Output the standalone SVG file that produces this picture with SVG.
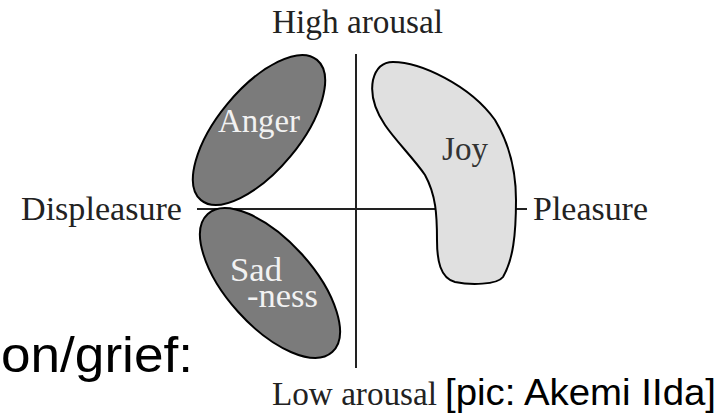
<svg xmlns="http://www.w3.org/2000/svg" width="722" height="413" viewBox="0 0 722 413">
<style>
.lbl{font-family:"Liberation Serif","Times New Roman",serif;font-size:34px;fill:#222}
.in{font-family:"Liberation Serif","Times New Roman",serif;font-size:34px}
.sans{font-family:"Liberation Sans",Arial,sans-serif;fill:#000}
.dark{fill:#7b7b7b;stroke:#000;stroke-width:2}
.light{fill:#e0e0e0;stroke:#000;stroke-width:2}
.axis{stroke:#222;stroke-width:2;fill:none}
</style>
<rect width="722" height="413" fill="#fff"/>
<g id="connectors">
<line class="axis" x1="356" y1="54" x2="356" y2="368"/>
<line class="axis" x1="197" y1="209" x2="527" y2="209"/>
</g>
<g id="anger">
<ellipse class="dark" cx="259" cy="130" rx="91" ry="41" transform="rotate(-50.4 259 130)"/>
<text class="in" x="218" y="132" fill="#f2f2f2" textLength="82" lengthAdjust="spacingAndGlyphs">Anger</text>
</g>
<g id="sadness">
<ellipse class="dark" cx="270" cy="283" rx="93" ry="43" transform="rotate(48 270 283)"/>
<text class="in" x="230" y="281" fill="#f2f2f2" textLength="52" lengthAdjust="spacingAndGlyphs">Sad</text>
<text class="in" x="247" y="307" fill="#f2f2f2" textLength="71" lengthAdjust="spacingAndGlyphs">-ness</text>
</g>
<g id="joy">
<path class="light" d="M393 62 C420 62 470 85 495 120 C510 145 516 170 516 200 C516 235 513 260 503 277 C497 285 470 285 455 282 C440 278 437 260 437 240 C437 215 436 195 425 175 C415 160 395 140 385 125 C375 110 370 95 373 80 C376 68 383 62 393 62 Z"/>
<text class="in" x="442" y="160" fill="#333" textLength="46" lengthAdjust="spacingAndGlyphs">Joy</text>
</g>
<g id="labels">
<text class="lbl" x="272" y="33" textLength="171" lengthAdjust="spacingAndGlyphs">High arousal</text>
<text class="lbl" x="272" y="405" textLength="165" lengthAdjust="spacingAndGlyphs">Low arousal</text>
<text class="lbl" x="21" y="220" textLength="161" lengthAdjust="spacingAndGlyphs">Displeasure</text>
<text class="lbl" x="533" y="220" textLength="115" lengthAdjust="spacingAndGlyphs">Pleasure</text>
<text class="sans" x="445" y="405" font-size="36" textLength="271" lengthAdjust="spacingAndGlyphs">[pic: Akemi IIda]</text>
<text class="sans" x="1" y="372" font-size="50" textLength="192" lengthAdjust="spacingAndGlyphs">on/grief:</text>
</g>
</svg>
